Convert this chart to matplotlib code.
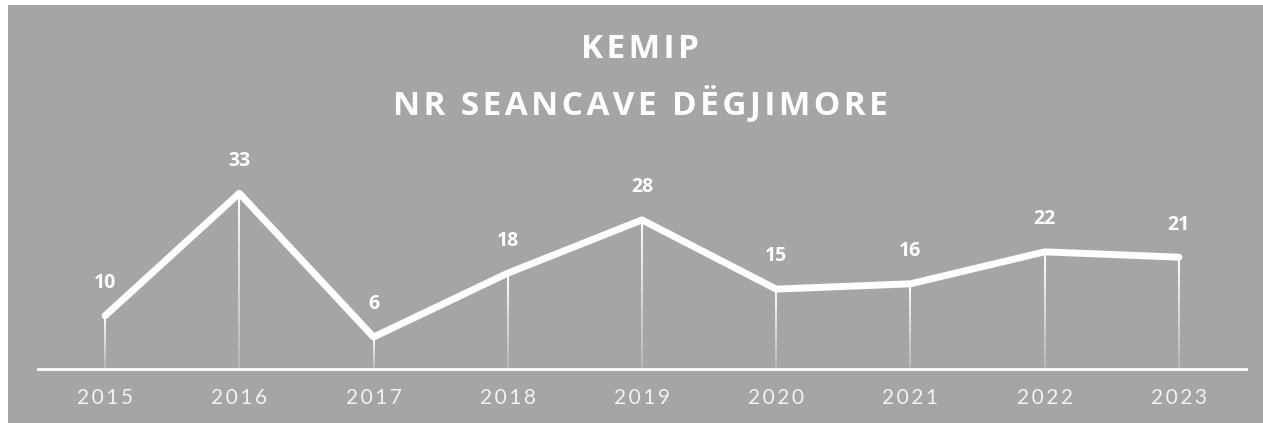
import numpy as np
import matplotlib
matplotlib.use("Agg")
import matplotlib.pyplot as plt
from matplotlib.collections import LineCollection
from matplotlib.patches import Rectangle

# ---- data ----
years = ["2015", "2016", "2017", "2018", "2019", "2020", "2021", "2022", "2023"]
sessions = [10, 33, 6, 18, 28, 15, 16, 22, 21]
title_line1 = "KEMIP"
title_line2 = "NR SEANCAVE DËGJIMORE"

W, H = 1263, 423
BG = "#a5a5a5"
HAIR = "\u200a"


def spaced(s, n=1):
    return (HAIR * n).join(list(s))


fig = plt.figure(figsize=(W / 100, H / 100), dpi=100)
fig.patch.set_facecolor("white")
fig.patches.append(Rectangle((8 / W, 0), 1 - 8 / W, 1 - 5 / H, transform=fig.transFigure,
                             facecolor=BG, edgecolor="none", zorder=-5))

ax = fig.add_axes([38 / W, 54 / H, 1208 / W, (369 - 156) / H])
ax.set_facecolor("none")
ax.set_zorder(2)
x = np.arange(len(years))
ax.set_xlim(-0.5, len(years) - 0.5)
ax.set_ylim(0, 40)

# drop lines with gradient (white at top, fading towards bottom)
N = 40
for xi, v in zip(x, sessions):
    ys = np.linspace(0, v, N + 1)
    segs = [[(xi, ys[i]), (xi, ys[i + 1])] for i in range(N)]
    alphas = np.linspace(0.2, 1.0, N)
    cols = [(1, 1, 1, a) for a in alphas]
    ax.add_collection(LineCollection(segs, colors=cols, linewidths=1.4, zorder=2))

ax.plot(x, sessions, color="white", lw=5.0, solid_capstyle="round",
        solid_joinstyle="round", zorder=3)

for xi, v in zip(x, sessions):
    ax.annotate(str(v), (xi, v), xytext=(0, 23.5), textcoords="offset points",
                ha="center", va="center", color="white", fontsize=14,
                fontweight="bold", family="Open Sans", zorder=4)

for s in ["top", "right", "left"]:
    ax.spines[s].set_visible(False)
ax.spines["bottom"].set_color("white")
ax.spines["bottom"].set_linewidth(2.0)
ax.set_yticks([])
ax.set_xticks(x)
ax.set_xticklabels([spaced(y, 2) for y in years], color="#f2f2f2",
                   fontsize=15, family=["Lato", "DejaVu Sans"])
ax.tick_params(axis="x", length=0, pad=14)

fig.text(640 / W, 1 - 50 / H, spaced(title_line1), ha="center", va="center", color="white",
         fontsize=24, fontweight="bold", family=["Open Sans", "DejaVu Sans"], zorder=5)
fig.text(640 / W, 1 - 104 / H, spaced(title_line2), ha="center", va="center", color="white",
         fontsize=24, fontweight="bold", family=["Open Sans", "DejaVu Sans"], zorder=5)

fig.savefig("out.png", dpi=100, facecolor=fig.get_facecolor())
